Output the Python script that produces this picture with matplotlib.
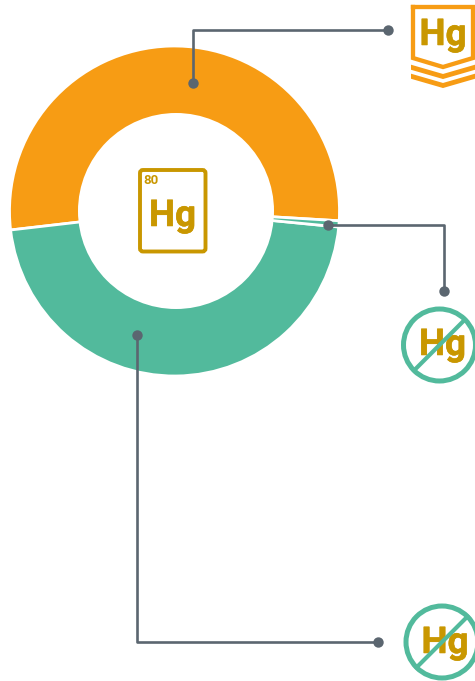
import matplotlib
matplotlib.use("Agg")
import matplotlib.pyplot as plt
import matplotlib.patheffects as pe
from matplotlib.patches import Circle, FancyBboxPatch, Rectangle

# share of each slice, percent
slices = ["orange", "green", "sliver"]
values = [52.78, 46.62, 0.60]
slice_colors = ["#F79C14", "#52BA9C", "#52BA9C"]

symbol = "Hg"
number = "80"

GOLD = "#C99700"
ORANGE = "#F79C14"
TEAL = "#52BA9C"
GREY = "#5B6670"

W, H = 475, 681
fig = plt.figure(figsize=(W / 100, H / 100), dpi=100)
plt.rcParams["font.family"] = ["Roboto", "DejaVu Sans"]

# donut in its own axes, placed in pixels
cx, cy, R = 174.5, 211, 165
ax_pie = fig.add_axes([(cx - R) / W, 1 - (cy + R) / H, 2 * R / W, 2 * R / H])
ax_pie.pie(values, colors=slice_colors, startangle=-3.4, radius=1,
           wedgeprops=dict(width=0.5, edgecolor="white", linewidth=2))
ax_pie.set_xlim(-1, 1)
ax_pie.set_ylim(-1, 1)

# overlay in pixel coordinates for the callouts and icons
ax = fig.add_axes([0, 0, 1, 1])
ax.set_xlim(0, W)
ax.set_ylim(H, 0)
ax.axis("off")
ax.patch.set_alpha(0)

# the hole sits a little to the right of the ring
ax.add_patch(Circle((176, 211), 98, fc="white", ec="none", zorder=1))

# callout lines
callouts = [
    ([193, 193, 388], [83, 30, 30]),
    ([328, 444, 444], [225, 225, 291]),
    ([137, 137, 378], [335, 642, 642]),
]
for xs, ys in callouts:
    ax.plot(xs, ys, color=GREY, lw=1.9, solid_joinstyle="round", zorder=3)
    ax.plot([xs[0], xs[-1]], [ys[0], ys[-1]], "o", color=GREY, ms=7.5, mew=0, zorder=4)

# element box in the middle
box = FancyBboxPatch((140, 170), 65.5, 81.5, boxstyle="round,pad=0,rounding_size=3",
                     fc="white", ec=GOLD, lw=2.8, zorder=2)
ax.add_patch(box)
ax.text(143, 180, number, color=GOLD, fontsize=9.5, fontweight="bold", va="center", ha="left",
        zorder=5)


def hg(x, y):
    ax.text(x, y, symbol, color=GOLD, fontsize=26.5, fontweight="bold", ha="center",
            va="baseline", zorder=5, path_effects=[pe.withStroke(linewidth=0.4, foreground=GOLD)])


hg(172.5, 226)

# shield, top right
ax.plot([413, 473, 473, 443, 413, 413], [7, 7, 58, 67, 58, 7], color=ORANGE, lw=3.1,
        solid_joinstyle="miter", zorder=2)
clip = Rectangle((411, 60), 64, 30, transform=ax.transData)
for top in [67.5, 76.5]:
    band, = ax.plot([405, 443, 481], [top - 2, top + 9, top - 2], color=ORANGE, lw=3.5,
                    solid_joinstyle="miter", zorder=2)
    band.set_clip_path(clip)
hg(443, 45)


# crossed out symbol
def crossed(x, y, baseline):
    hg(x, baseline)
    ax.add_patch(Circle((x - 3, y), 36, fc="none", ec=TEAL, lw=3.6, zorder=6))
    ax.plot([x - 28.5, x + 22.5], [y + 25.5, y - 25.5], color=TEAL, lw=3, zorder=6)


crossed(442.5, 345, 355)
crossed(445, 642, 653)

fig.savefig("out.png", dpi=100)
